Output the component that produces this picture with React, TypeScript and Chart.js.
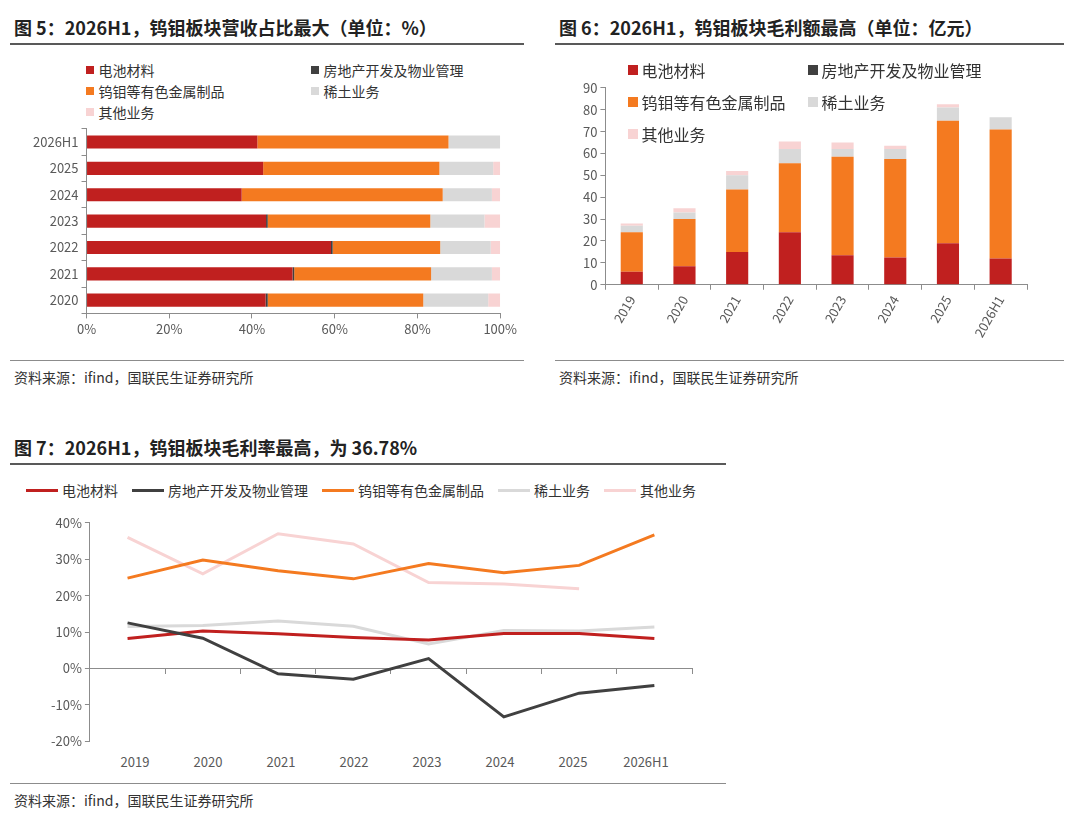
import { useRef, useEffect } from 'react';
import { Chart, registerables } from 'chart.js';

Chart.register(...registerables);

const FONT = '"Noto Sans CJK SC", "Noto Sans", sans-serif';
const SERIES = ['电池材料', '房地产开发及物业管理', '钨钼等有色金属制品', '稀土业务', '其他业务'];
const COLORS = ['#C0201F', '#404040', '#F47A20', '#D9D9D9', '#F8D3D3'];

// 图5 营收占比（%），从上到下
const shareCats = ['2026H1', '2025', '2024', '2023', '2022', '2021', '2020'];
const shareBattery = [41.3, 42.7, 37.5, 43.4, 59.1, 49.8, 43.3];
const shareEstate = [0, 0, 0, 0.4, 0.4, 0.4, 0.5];
const shareTungsten = [46.2, 42.6, 48.6, 39.3, 26.0, 33.1, 37.6];
const shareRare = [12.5, 13.0, 11.9, 13.1, 12.2, 14.7, 15.7];
const shareOther = [0, 1.7, 2.0, 3.8, 2.3, 2.0, 2.9];

// 图6 毛利额（亿元）
const years = ['2019', '2020', '2021', '2022', '2023', '2024', '2025', '2026H1'];
const gpBattery = [6, 8.5, 15, 24, 13.5, 12.5, 19, 12];
const gpEstate = [0, 0, 0, 0, 0, 0, 0, 0];
const gpTungsten = [18, 21.5, 28.5, 31.5, 45, 45, 56, 59];
const gpRare = [3, 3, 6.5, 6.5, 3.5, 4.5, 6, 5.5];
const gpOther = [1, 2, 2, 3.5, 3, 1.5, 1.5, 0];

// 图7 毛利率（%）
const gmBattery = [8.2, 10.3, 9.5, 8.5, 7.8, 9.6, 9.6, 8.2];
const gmEstate = [12.5, 8.3, -1.5, -3.0, 2.7, -13.3, -6.8, -4.7];
const gmTungsten = [24.8, 29.8, 26.8, 24.6, 28.8, 26.3, 28.3, 36.7];
const gmRare = [11.5, 11.8, 13.0, 11.6, 6.7, 10.4, 10.3, 11.4];
const gmOther = [36.0, 26.0, 37.0, 34.2, 23.6, 23.2, 21.9, null];

const tick = { color: '#595959', font: { family: FONT, size: 13 } };
const axisGrid = { drawOnChartArea: false, drawTicks: true, tickLength: 5, color: '#8c8c8c' };
const axisBorder = { color: '#8c8c8c' };

function useChart(make: () => any) {
  const ref = useRef<HTMLCanvasElement>(null);
  useEffect(() => {
    if (!ref.current) return;
    const chart = new Chart(ref.current, make());
    return () => chart.destroy();
  }, []);
  return ref;
}

function Title({ text, left, top, width }: { text: string; left: number; top: number; width: number }) {
  return (
    <div style={{ position: 'absolute', left, top, width, fontSize: 18, fontWeight: 700, color: '#222',
      borderBottom: '2px solid #595959', paddingBottom: 3, paddingLeft: 4 }}>{text}</div>
  );
}

function Source({ left, top, width }: { left: number; top: number; width: number }) {
  return (
    <div style={{ position: 'absolute', left, top, width, fontSize: 14, color: '#333',
      borderTop: '1px solid #8c8c8c', paddingTop: 6, paddingLeft: 4 }}>资料来源：ifind，国联民生证券研究所</div>
  );
}

function Swatch({ color, label, size = 14, fs = 14 }: { color: string; label: string; size?: number; fs?: number }) {
  return (
    <span style={{ display: 'inline-flex', alignItems: 'center', fontSize: fs, color: '#333' }}>
      <span style={{ width: size * 0.6, height: size * 0.6, background: color, marginRight: 4, display: 'inline-block' }} />
      {label}
    </span>
  );
}

const ds = (vals: number[][]) => SERIES.map((s, i) => ({ label: s, data: vals[i], backgroundColor: COLORS[i], barPercentage: 0.5, categoryPercentage: 1 }));

export default function App() {
  const ref5 = useChart(() => ({
    type: 'bar',
    data: { labels: shareCats, datasets: ds([shareBattery, shareEstate, shareTungsten, shareRare, shareOther]) },
    options: {
      indexAxis: 'y', animation: false, responsive: false,
      layout: { padding: { left: 20, right: 12 } },
      plugins: { legend: { display: false }, tooltip: { enabled: false } },
      scales: {
        x: { stacked: true, min: 0, max: 100, ticks: { ...tick, stepSize: 20, callback: (v: any) => v + '%' }, grid: axisGrid, border: axisBorder },
        y: { stacked: true, ticks: tick, grid: axisGrid, border: axisBorder },
      },
    },
  }));
  const ref6 = useChart(() => ({
    type: 'bar',
    data: { labels: years, datasets: ds([gpBattery, gpEstate, gpTungsten, gpRare, gpOther]).map(d => ({ ...d, barPercentage: 0.42 })) },
    options: {
      animation: false, responsive: false,
      layout: { padding: { left: 25, right: 18 } },
      plugins: { legend: { display: false }, tooltip: { enabled: false } },
      scales: {
        x: { stacked: true, ticks: { ...tick, minRotation: 60, maxRotation: 60 }, grid: { ...axisGrid, offset: true }, border: axisBorder },
        y: { stacked: true, min: 0, max: 90, ticks: { ...tick, stepSize: 10 }, grid: axisGrid, border: axisBorder },
      },
    },
  }));
  const ref7 = useChart(() => ({
    type: 'line',
    data: {
      labels: years,
      datasets: [gmBattery, gmEstate, gmTungsten, gmRare, gmOther].map((d, i) => ({
        label: SERIES[i], data: d, borderColor: COLORS[i], borderWidth: 3, pointRadius: 0, tension: 0,
        order: [2, 1, 3, 4, 5][i],
      })),
    },
    options: {
      animation: false, responsive: false,
      layout: { padding: { left: 48, right: 8, top: 4 } },
      plugins: { legend: { display: false }, tooltip: { enabled: false } },
      scales: {
        x: { position: { y: 0 }, offset: true, ticks: { display: false }, grid: { ...axisGrid, offset: true }, border: axisBorder },
        y: { min: -20, max: 40, ticks: { ...tick, stepSize: 10, callback: (v: any) => v + '%' }, grid: axisGrid, border: axisBorder },
      },
    },
  }));

  return (
    <div style={{ position: 'relative', width: 1080, height: 821, margin: -8, background: '#fff', fontFamily: FONT }}>
      <Title text="图 5：2026H1，钨钼板块营收占比最大（单位：%）" left={10} top={14} width={510} />
      <div style={{ position: 'absolute', left: 86, top: 60, width: 440, display: 'grid', gridTemplateColumns: '225px 215px', rowGap: 1 }}>
        <Swatch color={COLORS[0]} label={SERIES[0]} />
        <Swatch color={COLORS[1]} label={SERIES[1]} />
        <Swatch color={COLORS[2]} label={SERIES[2]} />
        <Swatch color={COLORS[3]} label={SERIES[3]} />
        <Swatch color={COLORS[4]} label={SERIES[4]} />
      </div>
      <canvas ref={ref5} width={510} height={222} style={{ position: 'absolute', left: 10, top: 118 }} />
      <Source left={10} top={360} width={510} />

      <Title text="图 6：2026H1，钨钼板块毛利额最高（单位：亿元）" left={555} top={14} width={505} />
      <canvas ref={ref6} width={490} height={266} style={{ position: 'absolute', left: 555, top: 77 }} />
      <div style={{ position: 'absolute', left: 628, top: 58, width: 380, display: 'grid', gridTemplateColumns: '180px 200px', rowGap: 8 }}>
        <Swatch color={COLORS[0]} label={SERIES[0]} fs={16} size={16} />
        <Swatch color={COLORS[1]} label={SERIES[1]} fs={16} size={16} />
        <Swatch color={COLORS[2]} label={SERIES[2]} fs={16} size={16} />
        <Swatch color={COLORS[3]} label={SERIES[3]} fs={16} size={16} />
        <Swatch color={COLORS[4]} label={SERIES[4]} fs={16} size={16} />
      </div>
      <Source left={555} top={360} width={505} />

      <Title text="图 7：2026H1，钨钼板块毛利率最高，为 36.78%" left={10} top={434} width={712} />
      <div style={{ position: 'absolute', left: 26, top: 480, display: 'flex', gap: 14, fontSize: 14, color: '#333' }}>
        {SERIES.map((s, i) => (
          <span key={s} style={{ display: 'inline-flex', alignItems: 'center' }}>
            <span style={{ width: 32, height: 3, background: COLORS[i], marginRight: 4, display: 'inline-block' }} />{s}
          </span>
        ))}
      </div>
      <canvas ref={ref7} width={700} height={240} style={{ position: 'absolute', left: 0, top: 512 }} />
      <div style={{ position: 'absolute', left: 0, top: 752, width: 700, height: 20 }}>
        {years.map((y, i) => (
          <span key={y} style={{ position: 'absolute', left: 135 + i * 73, transform: 'translateX(-50%)', fontSize: 13, color: '#595959' }}>{y}</span>
        ))}
      </div>
      <Source left={10} top={783} width={712} />
    </div>
  );
}
